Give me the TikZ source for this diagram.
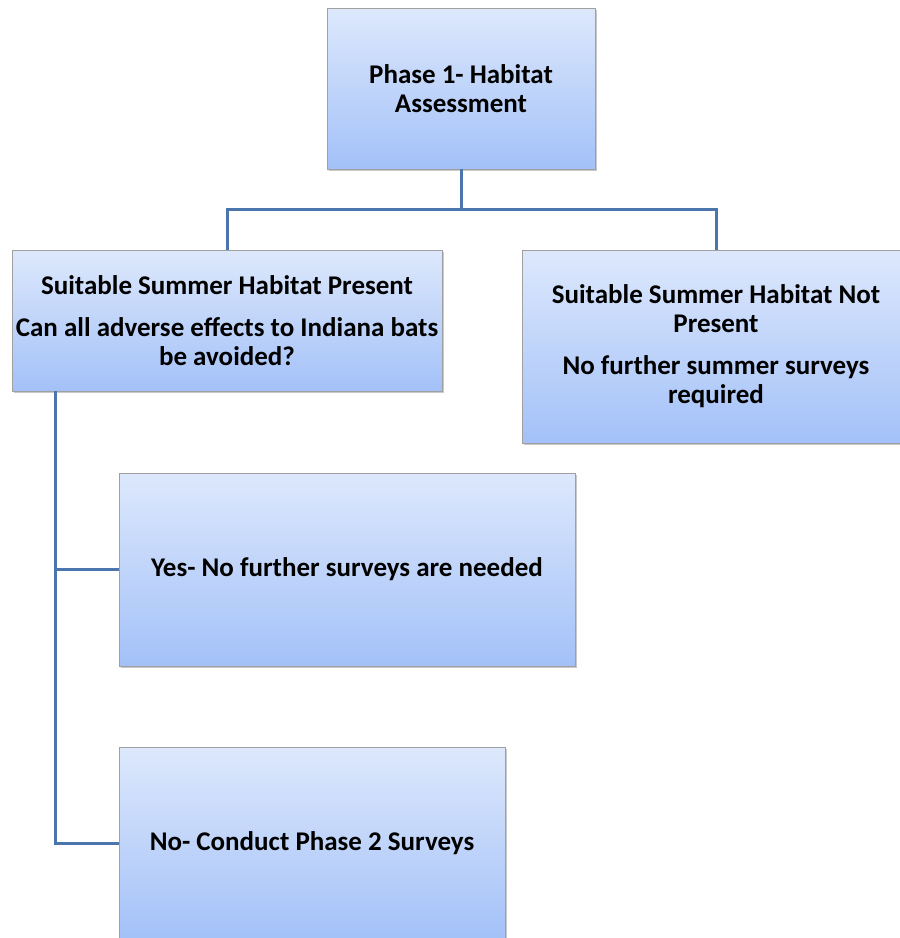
\documentclass[tikz,border=0pt]{standalone}
\usepackage{fontspec}
\setmainfont{Carlito}
\usetikzlibrary{shadows}
\definecolor{linec}{HTML}{4A76AD}
\definecolor{boxborder}{HTML}{A0A0A0}
\definecolor{topc}{HTML}{DDE8FC}
\definecolor{botc}{HTML}{A3C1F8}
\begin{document}
\begin{tikzpicture}[x=1pt,y=-1pt,
  box/.style={draw=boxborder, line width=0.8pt, top color=topc, bottom color=botc,
    inner sep=0pt, align=center, font=\bfseries\fontsize{27}{29}\selectfont,
    drop shadow={shadow xshift=1.5pt, shadow yshift=-2pt, opacity=0.35, fill=black!60}},
  conn/.style={draw=linec, line width=3pt, line join=miter}]
\useasboundingbox (0,0) rectangle (900,938);
\clip (0,0) rectangle (900,938);
\fill[white] (0,0) rectangle (900,938);
\coordinate (hub) at (461,209);
\coordinate (trunk) at (55,391);
\node[box, minimum width=268pt, minimum height=161pt] (top) at (461,88.5) {Phase 1- Habitat\\Assessment};
\node[box, minimum width=430pt, minimum height=141pt] (lm) at (227,320.5)
  {Suitable Summer Habitat Present\\[13pt]Can all adverse effects to Indiana bats\\be avoided?};
\node[box, minimum width=388pt, minimum height=193pt] (rm) at (716,346.5)
  {Suitable Summer Habitat Not\\Present\\[13pt]No further summer surveys\\required};
\node[box, minimum width=456pt, minimum height=193pt] (yes) at (347,569.5) {Yes- No further surveys are needed};
\node[box, minimum width=386pt, minimum height=193pt] (no) at (312,843.5) {No- Conduct Phase 2 Surveys};
\draw[conn] (top.south) -- (hub);
\draw[conn] (lm.north) |- (hub) -| (rm.north);
\draw[conn] (trunk) |- (no.west);
\draw[conn] (trunk |- yes.west) -- (yes.west);
\end{tikzpicture}
\end{document}
